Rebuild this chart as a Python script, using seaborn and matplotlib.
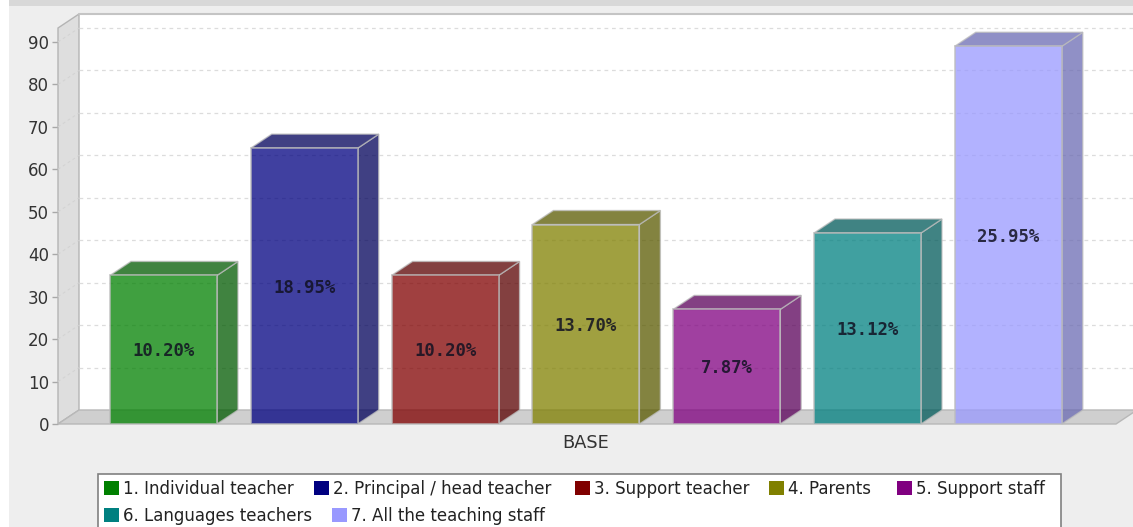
import matplotlib
matplotlib.use("Agg")
import matplotlib.pyplot as plt
import seaborn as sns
from matplotlib.patches import Polygon, Rectangle

series = [
    "1. Individual teacher",
    "2. Principal / head teacher",
    "3. Support teacher",
    "4. Parents",
    "5. Support staff",
    "6. Languages teachers",
    "7. All the teaching staff",
]
values = [35, 65, 35, 47, 27, 45, 89]
percents = ["10.20%", "18.95%", "10.20%", "13.70%", "7.87%", "13.12%", "25.95%"]
colors = ["#008000", "#000080", "#800000", "#808000", "#800080", "#008080", "#9999ff"]
y_ticks = [0, 10, 20, 30, 40, 50, 60, 70, 80, 90]
x_label = "BASE"

W, H = 1133, 527
DEPTH_X = 21 / 140.8
DEPTH_Y = 14 / 4.244
BAR_W = 0.76
EDGE = "#bdbdbd"


def darker(c, k=0.7):
    return tuple(v * k for v in matplotlib.colors.to_rgb(c))


def fig_rect(fig, x, y, w, h, **kw):
    fig.add_artist(Rectangle((x / W, 1 - (y + h) / H), w / W, h / H,
                             transform=fig.transFigure, **kw))


sns.set_theme(style="white")
plt.rcParams["font.family"] = ["DejaVu Sans"]

fig = plt.figure(figsize=(W / 100, H / 100), dpi=100, facecolor="#eeeeee")
fig_rect(fig, 0, 0, 9, H, fc="white", ec="none", zorder=-5)
fig_rect(fig, 9, 0, W - 9, 6, fc="#d8d8d8", ec="none", zorder=-5)

ax = fig.add_axes([58 / W, 1 - 424 / H, 1058 / W, 410 / H])
ax.patch.set_alpha(0)

sns.barplot(x=series, y=values, hue=series, palette=colors, dodge=False,
            width=BAR_W, saturation=1, alpha=0.75, edgecolor=EDGE, linewidth=1.3,
            legend=False, ax=ax, zorder=4)

xmin, xmax = -0.749, 6.765
ymax = 96.6
ax.set_xlim(xmin, xmax)
ax.set_ylim(0, ymax)

# back wall, left wall and floor of the 3d box
back_right = xmax + DEPTH_X
ax.add_patch(Polygon([(xmin + DEPTH_X, DEPTH_Y), (xmin + DEPTH_X, ymax), (back_right, ymax),
                      (back_right, DEPTH_Y)], fc="white", ec="none", zorder=0, clip_on=False))
ax.add_patch(Polygon([(xmin, 0), (xmin, ymax - DEPTH_Y), (xmin + DEPTH_X, ymax), (xmin + DEPTH_X, DEPTH_Y)],
                     fc="#dedede", ec="#b4b4b4", lw=1, zorder=1, clip_on=False))
ax.add_patch(Polygon([(xmin, 0), (xmin + DEPTH_X, DEPTH_Y), (back_right, DEPTH_Y), (xmax, 0)],
                     fc="#cfcfcf", ec="#b8b8b8", lw=1, zorder=1, clip_on=False))
ax.plot([xmin + DEPTH_X, back_right], [ymax, ymax], color="#c4c4c4", lw=1.5, zorder=1, clip_on=False)

for t in y_ticks[1:]:
    ax.plot([xmin + DEPTH_X, back_right], [t + DEPTH_Y, t + DEPTH_Y], color="#dcdcdc", lw=0.9,
            ls=(0, (3, 3)), zorder=2, clip_on=False)
    ax.plot([xmin, xmin + DEPTH_X], [t, t + DEPTH_Y], color="#d2d2d2", lw=0.7,
            ls=(0, (3, 3)), zorder=2, clip_on=False)

# side and top faces of each bar
for i, (v, c) in enumerate(zip(values, colors)):
    l, r = i - BAR_W / 2, i + BAR_W / 2
    d = darker(c)
    ax.add_patch(Polygon([(r, 0), (r, v), (r + DEPTH_X, v + DEPTH_Y), (r + DEPTH_X, DEPTH_Y)],
                         fc=d, ec=EDGE, lw=1, alpha=0.75, zorder=3, clip_on=False))
    ax.add_patch(Polygon([(l, v), (l + DEPTH_X, v + DEPTH_Y), (r + DEPTH_X, v + DEPTH_Y), (r, v)],
                         fc=d, ec=EDGE, lw=1, alpha=0.75, zorder=3, clip_on=False))
    ax.text(i, v / 2 - 0.4, percents[i], ha="center", va="center", color="#111122",
            fontsize=12.4, family="DejaVu Sans Mono", fontweight="bold", alpha=0.85, zorder=6)

for s in ax.spines.values():
    s.set_visible(False)
ax.set_yticks(y_ticks)
ax.set_xticks([3])
ax.set_xticklabels([x_label])
ax.tick_params(axis="y", left=True, length=4, width=1, color="#a8a8a8", labelcolor="#333333",
               labelsize=12, pad=2.5)
ax.tick_params(axis="x", bottom=False, labelcolor="#333333", labelsize=12.8, pad=1)
ax.set_xlabel("")
ax.set_ylabel("")

# legend flows over two rows, so it is laid out by hand
fig_rect(fig, 97.5, 473.5, 963, 70, fc="white", ec="#808080", lw=1.2, zorder=5)
swatch_x = [104, 314, 575, 769, 897, 104, 332]
swatch_y = [481, 481, 481, 481, 481, 508, 508]
for name, c, sx, sy in zip(series, colors, swatch_x, swatch_y):
    fig_rect(fig, sx, sy, 15, 14, fc=c, ec="none", zorder=6)
    fig.text((sx + 19) / W, 1 - (sy + 8) / H, name, ha="left", va="center", color="#222222",
             fontsize=12, zorder=6)

fig.savefig("out.png", dpi=100, facecolor=fig.get_facecolor())
